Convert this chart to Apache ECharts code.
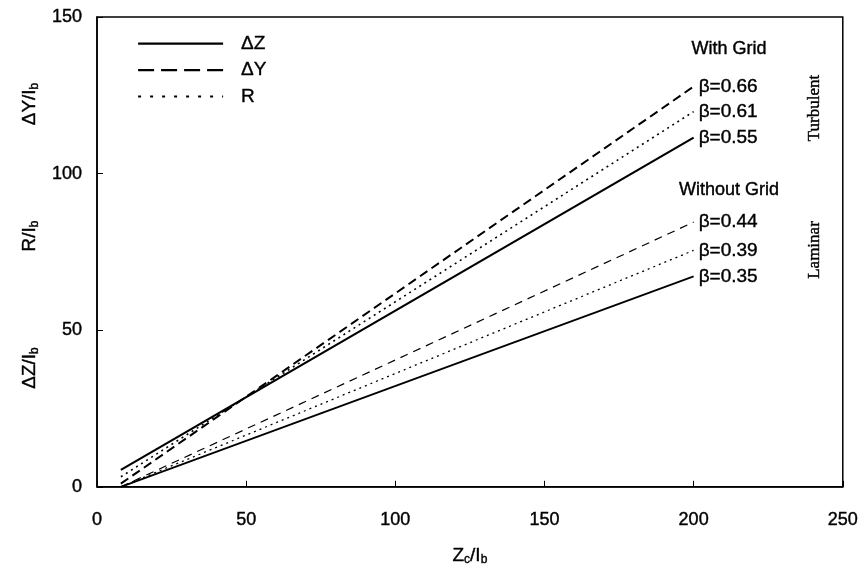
<!DOCTYPE html>
<html>
<head>
<meta charset="utf-8">
<script src="https://cdn.jsdelivr.net/npm/echarts@6/dist/echarts.min.js"></script>
<style>
  html, body { margin: 0; padding: 0; background: #fff; }
  #chart { width: 861px; height: 571px; }
</style>
</head>
<body>
<div id="chart"></div>
<script>
// Normalised distance Zc/Ib at the two ends of every fitted line
const zc = [8, 200];

// With grid (turbulent)
const withGridDZ = [5.4, 111.5];
const withGridDY = [1.0, 127.8];
const withGridR  = [3.2, 119.8];
const betaWith   = ['0.55', '0.66', '0.61'];   // ΔZ, ΔY, R

// Without grid (laminar)
const withoutGridDZ = [0, 67.2];
const withoutGridDY = [0, 84.5];
const withoutGridR  = [0, 75.5];
const betaWithout   = ['0.35', '0.44', '0.39']; // ΔZ, ΔY, R

const xTicks = { min: 0, max: 250, step: 50 };
const yTicks = { min: 0, max: 150, step: 50 };

const SANS = '"Liberation Sans", Arial, sans-serif';
const SERIF = '"Liberation Serif", "Times New Roman", serif';
// slight stroke so the lettering has the weight of the printed figure
const INK = { textBorderColor: '#000', textBorderWidth: 0.4 };

const pts = vals => zc.map((x, i) => [x, vals[i]]);

function mkSeries(name, vals, beta, width, dash) {
  return {
    type: 'line',
    name: name,
    data: pts(vals),
    symbol: 'none',
    silent: true,
    clip: true,
    color: '#000',
    lineStyle: { color: '#000', width: width, type: dash, cap: 'butt' },
    endLabel: Object.assign({
      show: true,
      formatter: 'β=' + beta,
      color: '#000',
      fontFamily: SANS,
      fontSize: 19,
      distance: 5
    }, INK)
  };
}

const chart = echarts.init(document.getElementById('chart'), null, { renderer: 'canvas' });

// rich styles for axis names (label style keys)
const subL = Object.assign({ fontSize: 12, verticalAlign: 'bottom', padding: [9, 0, 0, 0], fontFamily: SANS, color: '#000' }, INK);
const mainL = Object.assign({ fontSize: 19, fontFamily: SANS, color: '#000' }, INK);
// rich styles for graphic text (zrender style keys)
const subG = { font: '12px ' + SANS, verticalAlign: 'bottom', padding: [9, 0, 0, 0], fill: '#000', stroke: '#000', lineWidth: 0.4 };
const mainG = { font: '19px ' + SANS, fill: '#000', stroke: '#000', lineWidth: 0.4 };

function yTitle(text, y) {
  return {
    type: 'text',
    x: 30, y: y,
    rotation: Math.PI / 2,
    style: {
      text: text,
      rich: { n: mainG, s: subG },
      align: 'center',
      verticalAlign: 'middle'
    }
  };
}

function note(text, x, y, font, rotated) {
  return {
    type: 'text', x: x, y: y,
    rotation: rotated ? Math.PI / 2 : 0,
    style: { text: text, font: font, fill: '#000', stroke: '#000', lineWidth: 0.4, align: 'center', verticalAlign: 'middle' }
  };
}

chart.setOption({
  animation: false,
  backgroundColor: '#fff',
  grid: { left: 97, right: 15, top: 17, bottom: 82, show: true, borderColor: '#000', borderWidth: 1.5, backgroundColor: 'transparent' },
  xAxis: {
    type: 'value',
    min: xTicks.min, max: xTicks.max, interval: xTicks.step,
    splitLine: { show: false },
    axisLine: { lineStyle: { color: '#000', width: 1.5 } },
    axisTick: { inside: true, length: 6, lineStyle: { color: '#000' } },
    axisLabel: Object.assign({ color: '#000', fontFamily: SANS, fontSize: 18, margin: 24 }, INK),
    name: '{n|Z}{s|c}{n|/I}{s|b}',
    nameLocation: 'middle',
    nameGap: 58,
    nameTextStyle: { rich: { n: mainL, s: subL } }
  },
  yAxis: {
    type: 'value',
    min: yTicks.min, max: yTicks.max, interval: yTicks.step,
    splitLine: { show: false },
    axisLine: { lineStyle: { color: '#000', width: 1.5 } },
    axisTick: { inside: true, length: 6, lineStyle: { color: '#000' } },
    axisLabel: Object.assign({ color: '#000', fontFamily: SANS, fontSize: 18, margin: 15 }, INK)
  },
  legend: {
    orient: 'vertical',
    left: 137, top: 34,
    itemWidth: 85, itemHeight: 14, itemGap: 7,
    selectedMode: false,
    padding: 0,
    itemStyle: { opacity: 0 },
    textStyle: Object.assign({ color: '#000', fontFamily: SANS, fontSize: 19, padding: [0, 0, 0, 13] }, INK),
    data: [
      { name: 'ΔZ', itemStyle: { opacity: 0 }, lineStyle: { color: '#000', width: 2.2, type: 'solid' } },
      { name: 'ΔY', itemStyle: { opacity: 0 }, lineStyle: { color: '#000', width: 2.2, type: [16, 7] } },
      { name: 'R',  itemStyle: { opacity: 0 }, lineStyle: { color: '#000', width: 2, type: [3, 9] } }
    ]
  },
  series: [
    mkSeries('ΔZ', withGridDZ, betaWith[0], 2.2, 'solid'),
    mkSeries('ΔY', withGridDY, betaWith[1], 2, [9, 5]),
    mkSeries('R',  withGridR,  betaWith[2], 1.6, [2, 4]),
    mkSeries('ΔZ', withoutGridDZ, betaWithout[0], 1.8, 'solid'),
    mkSeries('ΔY', withoutGridDY, betaWithout[1], 1.2, [8, 6]),
    mkSeries('R',  withoutGridR,  betaWithout[2], 1.3, [2, 4])
  ],
  graphic: [
    note('With Grid', 729, 49, '18px ' + SANS),
    note('Without Grid', 729, 190, '18px ' + SANS),
    note('Turbulent', 815, 108, '17px ' + SERIF, true),
    note('Laminar', 815, 250, '17px ' + SERIF, true),
    yTitle('{n|ΔY/I}{s|b}', 104),
    yTitle('{n|R/I}{s|b}', 236),
    yTitle('{n|ΔZ/I}{s|b}', 368)
  ]
});
</script>
</body>
</html>
